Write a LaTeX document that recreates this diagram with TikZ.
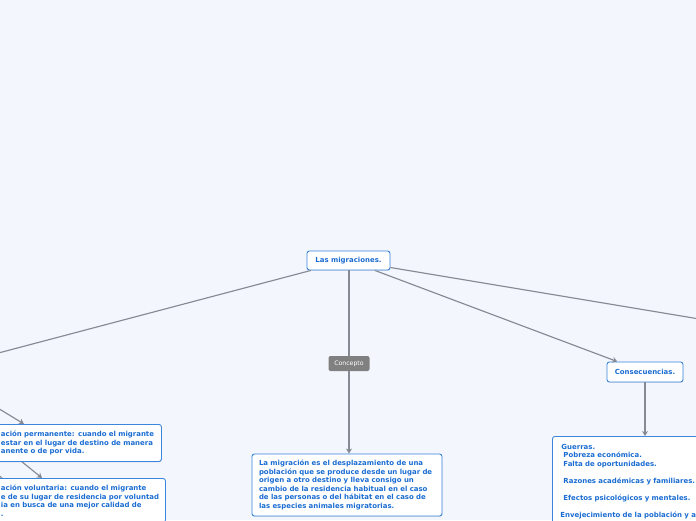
\documentclass[tikz,border=0pt]{standalone}
\usepackage{fontspec}
\setmainfont{DejaVu Sans}
\usetikzlibrary{arrows.meta,shadows}
\definecolor{bg}{HTML}{F3F6FD}
\definecolor{bd}{HTML}{3A86DC}
\definecolor{tx}{HTML}{1A6CD2}
\definecolor{ln}{HTML}{868A94}
\definecolor{lab}{HTML}{808080}
\begin{document}
\begin{tikzpicture}[x=1pt,y=-1pt,
  box/.style={draw=bd, line width=0.9pt, fill=white, rounded corners=2.5pt,
    font=\fontsize{6.95}{8.5}\selectfont\bfseries, text=tx, align=left, inner sep=0pt,
    drop shadow={opacity=0.2, shadow xshift=0.4pt, shadow yshift=-0.9pt}},
  conn/.style={draw=ln, line width=1.15pt},
  arr/.style={conn, -{Stealth[length=5pt,width=6pt]}},
  lbl/.style={fill=lab, rounded corners=2pt, text=white, font=\fontsize{6.2}{7}\selectfont,
    minimum width=41pt, minimum height=15pt, inner sep=0pt}
]
\useasboundingbox (0,0) rectangle (696,520);
\clip (0,0) rectangle (696,520);
\fill[bg] (0,0) rectangle (696,520);

% off-screen ends
\coordinate (lfar) at (-100,379);
\coordinate (rfar) at (800,335.8);
\coordinate (lp) at (-40,385);
\coordinate (lq) at (-40,411.6);
\coordinate (lr) at (-30,452);

% nodes
\node[box, minimum width=83pt, minimum height=19pt] (root) at (348.5,260.5) {Las migraciones.};
\node[lbl] (cpt) at (349,363.5) {Concepto};
\node[box, minimum width=190pt, minimum height=62pt, text width=176pt] (def) at (347,485)
 {\mbox{La migración es el desplazamiento de una}\\
  \mbox{población que se produce desde un lugar de}\\
  \mbox{origen a otro destino y lleva consigo un}\\
  \mbox{cambio de la residencia habitual en el caso}\\
  \mbox{de las personas o del hábitat en el caso de}\\
  \mbox{las especies animales migratorias.}};
\node[box, minimum width=76pt, minimum height=20pt] (cons) at (645,372) {Consecuencias.};

% connectors (drawn before boxes that hide them)
\draw[conn] (root) -- (lfar);
\draw[conn] (root) -- (rfar);
\draw[conn] (root.south -| cpt.north) -- (cpt.north);
\draw[arr] (cpt.south) -- (cpt.south |- def.north);
\draw[arr] (root) -- (cons);

\node[box, anchor=north west, inner xsep=9pt, inner ysep=7.5pt, text width=200pt] (efx) at (552,436)
 {Guerras.\\
  \hspace*{2pt}Pobreza económica.\\
  \hspace*{2pt}Falta de oportunidades.\\[8.5pt]
  \hspace*{2pt}Razones académicas y familiares.\\[8.5pt]
  \hspace*{2pt}Efectos psicológicos y mentales.\\[8.5pt]
  \hspace*{-1pt}Envejecimiento de la población y a\\[20pt]};
\draw[arr] (cons.south) -- (cons.south |- efx.north);

\draw[arr] (lq) -- (42,478) coordinate (b2in);
\draw[conn] (lr) -- (2,478);
\node[box, anchor=north west, inner xsep=9pt, inner ysep=6.5pt, text width=151.5pt, minimum height=37pt] (perm) at (-8.5,424)
 {\mbox{ación permanente: cuando el migrante}\\
  \mbox{estar en el lugar de destino de manera}\\
  \mbox{anente o de por vida.}};
\path (perm.north west) ++(32.5,0) coordinate (b1in);
\draw[arr] (lp) -- (b1in);
\node[box, anchor=north west, inner xsep=9pt, inner ysep=6.5pt, text width=155.5pt] (vol) at (-8.5,478)
 {\mbox{ación voluntaria: cuando el migrante}\\
  \mbox{e de su lugar de residencia por voluntad}\\
  \mbox{ia en busca de una mejor calidad de}\\
  .\\[20pt]};
\end{tikzpicture}
\end{document}
